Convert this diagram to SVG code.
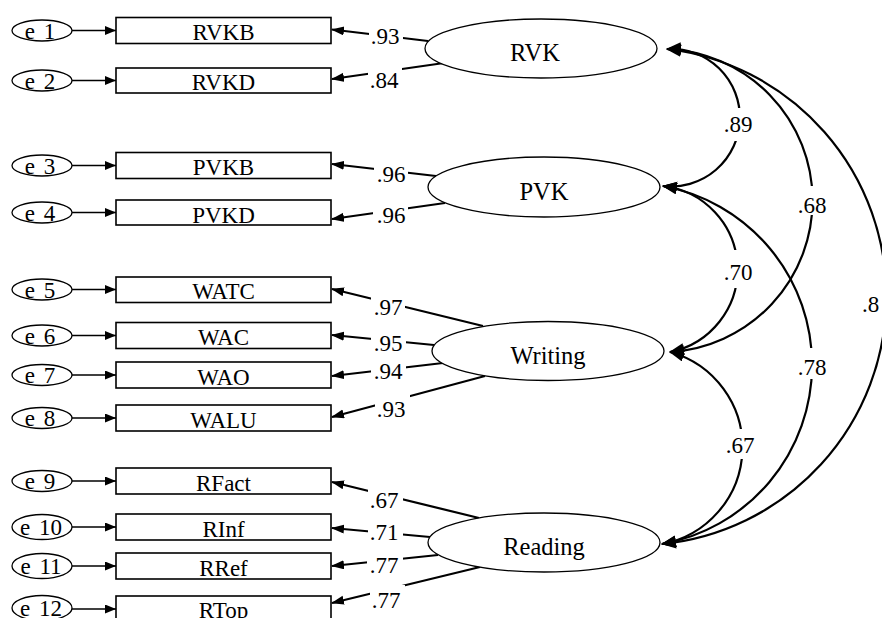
<svg xmlns="http://www.w3.org/2000/svg" width="882" height="618" viewBox="0 0 882 618">
<style>
.t{font-family:"Liberation Serif","Times New Roman",serif;fill:#000}
.box{fill:#fff;stroke:#000;stroke-width:1.6}
.err{fill:#fff;stroke:#000;stroke-width:1.3}
.lat{fill:#fff;stroke:#000;stroke-width:1.3}
.ea{stroke:#000;stroke-width:1.5;fill:none;marker-end:url(#ah)}
.ld{stroke:#000;stroke-width:2.2;fill:none;marker-end:url(#al)}
.cv{fill:none;stroke:#000;stroke-width:2.2;marker-start:url(#ac);marker-end:url(#ac)}
.bg{fill:#fff}
.obs{font-size:23px;text-anchor:middle}
.el{font-size:23px;text-anchor:middle;word-spacing:3px}
.ln{font-size:23px;text-anchor:middle}
.lt{font-size:24.5px;text-anchor:middle}
</style>
<defs>
<marker id="ah" markerUnits="userSpaceOnUse" markerWidth="12" markerHeight="10" refX="11" refY="4.5" orient="auto"><path d="M0,0 L11,4.5 L0,9 z" fill="#000"/></marker>
<marker id="al" markerUnits="userSpaceOnUse" markerWidth="14" markerHeight="10" refX="12" refY="4.5" orient="auto"><path d="M0,0 L13,4.5 L0,9 z" fill="#000"/></marker>
<marker id="ac" markerUnits="userSpaceOnUse" markerWidth="16" markerHeight="13" refX="14" refY="6" orient="auto-start-reverse"><path d="M0,0 L15,6 L0,12 z" fill="#000"/></marker>
</defs>
<rect width="882" height="618" fill="#fff"/>

<g id="connectors">
<line class="ea" x1="72" y1="30.5" x2="116" y2="30.5"/>
<line class="ea" x1="72" y1="80.5" x2="116" y2="80.5"/>
<line class="ea" x1="72" y1="165.5" x2="116" y2="165.5"/>
<line class="ea" x1="72" y1="212.5" x2="116" y2="212.5"/>
<line class="ea" x1="72" y1="289.5" x2="116" y2="289.5"/>
<line class="ea" x1="72" y1="335.5" x2="116" y2="335.5"/>
<line class="ea" x1="72" y1="375" x2="116" y2="375"/>
<line class="ea" x1="72" y1="418" x2="116" y2="418"/>
<line class="ea" x1="72" y1="481" x2="116" y2="481"/>
<line class="ea" x1="72" y1="527" x2="116" y2="527"/>
<line class="ea" x1="72" y1="566" x2="116" y2="566"/>
<line class="ea" x1="72" y1="609" x2="116" y2="609"/>
<line class="ld" x1="428" y1="41" x2="332" y2="29.5"/>
<line class="ld" x1="444" y1="63" x2="332" y2="79"/>
<line class="ld" x1="436" y1="176" x2="332" y2="164"/>
<line class="ld" x1="445" y1="203" x2="332" y2="219"/>
<line class="ld" x1="483" y1="326" x2="332" y2="289"/>
<line class="ld" x1="434" y1="345" x2="332" y2="335"/>
<line class="ld" x1="443" y1="363" x2="332" y2="376"/>
<line class="ld" x1="485" y1="376" x2="332" y2="417"/>
<line class="ld" x1="479" y1="518" x2="332" y2="482"/>
<line class="ld" x1="430" y1="537" x2="332" y2="528"/>
<line class="ld" x1="438" y1="555" x2="332" y2="566"/>
<line class="ld" x1="480" y1="567" x2="332" y2="603"/>
<path class="cv" d="M667,49 A68.8,68.8 0 1 1 663,186"/>
<path class="cv" d="M667,49 A151.7,151.7 0 0 1 670,352"/>
<path class="cv" d="M667,49 A249,249 0 0 1 662,544"/>
<path class="cv" d="M663,186 A84.1,84.1 0 0 1 670,352"/>
<path class="cv" d="M663,186 A181.9,181.9 0 0 1 662,544"/>
<path class="cv" d="M670,352 A98.6,98.6 0 0 1 662,544"/>
<rect class="bg" x="369" y="24" width="34" height="24"/><text class="t ln" x="385" y="44">.93</text>
<rect class="bg" x="368" y="66" width="34" height="26"/><text class="t ln" x="384" y="88">.84</text>
<rect class="bg" x="374" y="162" width="34" height="24"/><text class="t ln" x="391" y="182">.96</text>
<rect class="bg" x="373" y="203" width="35" height="24"/><text class="t ln" x="391" y="223">.96</text>
<rect class="bg" x="371" y="295" width="34" height="24"/><text class="t ln" x="388" y="315">.97</text>
<rect class="bg" x="371" y="331" width="35" height="24"/><text class="t ln" x="388" y="351">.95</text>
<rect class="bg" x="371" y="359" width="35" height="24"/><text class="t ln" x="388" y="379">.94</text>
<rect class="bg" x="375" y="394" width="35" height="26"/><text class="t ln" x="391" y="417">.93</text>
<rect class="bg" x="368" y="488" width="35" height="24"/><text class="t ln" x="384" y="508">.67</text>
<rect class="bg" x="368" y="520" width="35" height="24"/><text class="t ln" x="384" y="540">.71</text>
<rect class="bg" x="367" y="553" width="36" height="24"/><text class="t ln" x="384" y="573">.77</text>
<rect class="bg" x="370" y="585" width="35" height="26"/><text class="t ln" x="386" y="608">.77</text>
<rect class="bg" x="720" y="108" width="36" height="33"/><text class="t ln" x="738" y="132">.89</text>
<rect class="bg" x="794" y="186" width="36" height="29"/><text class="t ln" x="812" y="213">.68</text>
<rect class="bg" x="720" y="250" width="36" height="38"/><text class="t ln" x="738" y="280">.70</text>
<rect class="bg" x="794" y="348" width="36" height="31"/><text class="t ln" x="812" y="375">.78</text>
<rect class="bg" x="722" y="429" width="36" height="30"/><text class="t ln" x="740" y="453">.67</text>
<rect class="bg" x="860" y="290" width="22" height="28"/><text class="t" x="862" y="312" font-size="23">.8</text>
</g>

<g id="e1"><ellipse class="err" cx="42" cy="30.5" rx="30" ry="10.5"/><text class="t el" x="40" y="38.5">e 1</text></g>
<g id="e2"><ellipse class="err" cx="42" cy="80.5" rx="30" ry="10.5"/><text class="t el" x="40" y="88.5">e 2</text></g>
<g id="e3"><ellipse class="err" cx="42" cy="165.5" rx="30" ry="10.5"/><text class="t el" x="40" y="173.5">e 3</text></g>
<g id="e4"><ellipse class="err" cx="42" cy="212.5" rx="30" ry="10.5"/><text class="t el" x="40" y="220.5">e 4</text></g>
<g id="e5"><ellipse class="err" cx="42" cy="289.5" rx="30" ry="10.5"/><text class="t el" x="40" y="297.5">e 5</text></g>
<g id="e6"><ellipse class="err" cx="42" cy="335.5" rx="30" ry="10.5"/><text class="t el" x="40" y="343.5">e 6</text></g>
<g id="e7"><ellipse class="err" cx="42" cy="375" rx="30" ry="10.5"/><text class="t el" x="40" y="383">e 7</text></g>
<g id="e8"><ellipse class="err" cx="42" cy="418" rx="30" ry="10.5"/><text class="t el" x="40" y="426">e 8</text></g>
<g id="e9"><ellipse class="err" cx="42" cy="481" rx="30" ry="10.5"/><text class="t el" x="40" y="489">e 9</text></g>
<g id="e10"><ellipse class="err" cx="42" cy="527" rx="30" ry="12.5"/><text class="t el" x="41" y="535">e 10</text></g>
<g id="e11"><ellipse class="err" cx="42" cy="566" rx="30" ry="12.5"/><text class="t el" x="41" y="574">e 11</text></g>
<g id="e12"><ellipse class="err" cx="42" cy="608" rx="30" ry="12.5"/><text class="t el" x="41" y="616">e 12</text></g>

<g id="RVKB"><rect class="box" x="116" y="17.5" width="215" height="26"/><text class="t obs" x="223.5" y="40">RVKB</text></g>
<g id="RVKD"><rect class="box" x="116" y="68" width="215" height="25"/><text class="t obs" x="223.5" y="89.5">RVKD</text></g>
<g id="PVKB"><rect class="box" x="116" y="152.5" width="215" height="26"/><text class="t obs" x="223.5" y="175">PVKB</text></g>
<g id="PVKD"><rect class="box" x="116" y="200" width="215" height="25"/><text class="t obs" x="223.5" y="222.5">PVKD</text></g>
<g id="WATC"><rect class="box" x="116" y="277" width="215" height="25.5"/><text class="t obs" x="223.5" y="299">WATC</text></g>
<g id="WAC"><rect class="box" x="116" y="322.5" width="215" height="26"/><text class="t obs" x="223.5" y="345">WAC</text></g>
<g id="WAO"><rect class="box" x="116" y="362" width="215" height="26"/><text class="t obs" x="223.5" y="384.5">WAO</text></g>
<g id="WALU"><rect class="box" x="116" y="405" width="215" height="26"/><text class="t obs" x="223.5" y="427.5">WALU</text></g>
<g id="RFact"><rect class="box" x="116" y="468" width="215" height="26"/><text class="t obs" x="223.5" y="490.5">RFact</text></g>
<g id="RInf"><rect class="box" x="116" y="514" width="215" height="26"/><text class="t obs" x="223.5" y="536.5">RInf</text></g>
<g id="RRef"><rect class="box" x="116" y="553" width="215" height="26"/><text class="t obs" x="223.5" y="575.5">RRef</text></g>
<g id="RTop"><rect class="box" x="116" y="596" width="215" height="26"/><text class="t obs" x="223.5" y="618">RTop</text></g>

<g id="RVK"><ellipse class="lat" cx="541" cy="48.5" rx="116" ry="29.5"/><text class="t lt" x="535" y="61">RVK</text></g>
<g id="PVK"><ellipse class="lat" cx="544" cy="187" rx="116" ry="30"/><text class="t lt" x="544" y="200">PVK</text></g>
<g id="Writing"><ellipse class="lat" cx="548" cy="351" rx="116" ry="29.5"/><text class="t lt" x="548" y="363.5">Writing</text></g>
<g id="Reading"><ellipse class="lat" cx="544" cy="542.5" rx="116" ry="29.5"/><text class="t lt" x="544" y="555">Reading</text></g>
</svg>
